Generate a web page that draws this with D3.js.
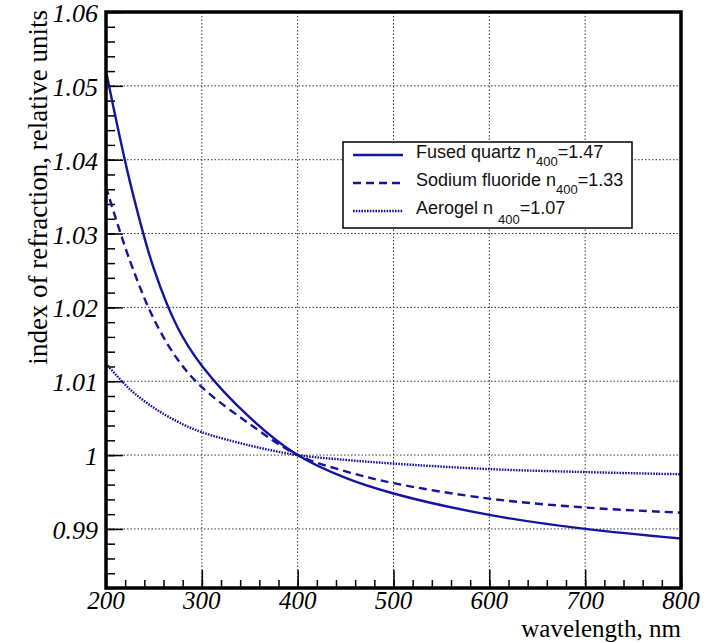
<!DOCTYPE html>
<html>
<head>
<meta charset="utf-8">
<script src="https://cdn.jsdelivr.net/npm/d3@7"></script>
<style>
  body { margin: 0; background: #fff; }
  svg { display: block; }
</style>
</head>
<body>
<div id="chart"></div>
<script>
// wavelength in nm
const wavelength = [200, 225, 250, 275, 300, 350, 400, 450, 500, 600, 700, 800];
const fusedQuartz = [1.0520, 1.0370, 1.0252, 1.0172, 1.0121, 1.0051, 1.0, 0.9969, 0.9948, 0.9919, 0.9900, 0.9887];
const sodiumFluoride = [1.0363, 1.0263, 1.0184, 1.0129, 1.0092, 1.0042, 1.0, 0.9978, 0.9962, 0.9941, 0.9929, 0.9922];
const aerogel = [1.0124, 1.0089, 1.0064, 1.0045, 1.0031, 1.0013, 1.0, 0.99935, 0.99885, 0.9981, 0.9977, 0.9974];

const xTicks = [200, 300, 400, 500, 600, 700, 800];
const yTicks = [0.99, 1, 1.01, 1.02, 1.03, 1.04, 1.05, 1.06];
const yTickLabels = ['0.99', '1', '1.01', '1.02', '1.03', '1.04', '1.05', '1.06'];

const series = [
  { name: 'Fused quartz n', sub: '400', val: '=1.47', values: fusedQuartz, dash: null },
  { name: 'Sodium fluoride n', sub: '400', val: '=1.33', values: sodiumFluoride, dash: '8,5' },
  { name: 'Aerogel n ', sub: '400', val: '=1.07', values: aerogel, dash: '1.6,1.2' }
];

const W = 713, H = 643;
const color = '#1414a0';
const serif = '"Liberation Serif", "DejaVu Serif", serif';

const x = d3.scaleLinear().domain([200, 800]).range([106, 681]);
const y = d3.scaleLinear().domain([0.982, 1.06]).range([588, 12]);

const svg = d3.select('#chart').append('svg')
  .attr('width', W)
  .attr('height', H);

// grid lines
const grid = svg.append('g');
grid.selectAll('line.gx')
  .data(xTicks.slice(1, -1))
  .enter().append('line')
    .attr('x1', d => x(d)).attr('x2', d => x(d))
    .attr('y1', y(0.982)).attr('y2', y(1.06))
    .attr('stroke', '#333').attr('stroke-width', 1)
    .attr('stroke-dasharray', '1.5,2');
grid.selectAll('line.gy')
  .data(yTicks.slice(0, -1))
  .enter().append('line')
    .attr('x1', x(200)).attr('x2', x(800))
    .attr('y1', d => y(d)).attr('y2', d => y(d))
    .attr('stroke', '#333').attr('stroke-width', 1)
    .attr('stroke-dasharray', '1.5,2');

// minor + major ticks (inside)
const xMinor = d3.range(200, 801, 20);
svg.append('g')
  .attr('transform', `translate(0,${y(0.982)})`)
  .call(d3.axisTop(x).tickValues(xMinor).tickSize(8).tickFormat(''))
  .call(g => g.select('.domain').remove())
  .call(g => g.selectAll('line').attr('stroke-width', 1.5));
svg.append('g')
  .attr('transform', `translate(0,${y(0.982)})`)
  .call(d3.axisTop(x).tickValues(xTicks).tickSize(18).tickFormat(''))
  .call(g => g.select('.domain').remove())
  .call(g => g.selectAll('line').attr('stroke-width', 1.5));

const yMinor = d3.range(0, 40).map(i => 0.982 + i * 0.002);
svg.append('g')
  .attr('transform', `translate(${x(200)},0)`)
  .call(d3.axisRight(y).tickValues(yMinor).tickSize(9).tickFormat(''))
  .call(g => g.select('.domain').remove())
  .call(g => g.selectAll('line').attr('stroke-width', 1.5));
svg.append('g')
  .attr('transform', `translate(${x(200)},0)`)
  .call(d3.axisRight(y).tickValues(yTicks).tickSize(17).tickFormat(''))
  .call(g => g.select('.domain').remove())
  .call(g => g.selectAll('line').attr('stroke-width', 1.5));

// tick labels
svg.append('g').selectAll('text')
  .data(xTicks)
  .enter().append('text')
    .attr('x', d => x(d))
    .attr('y', 609)
    .attr('text-anchor', 'middle')
    .style('font-family', serif)
    .style('font-style', 'italic')
    .style('font-size', '25px')
    .text(d => d);

svg.append('g').selectAll('text')
  .data(yTicks)
  .enter().append('text')
    .attr('x', 98)
    .attr('y', d => y(d) + 10)
    .attr('text-anchor', 'end')
    .style('font-family', serif)
    .style('font-style', 'italic')
    .style('font-size', '26px')
    .text((d, i) => yTickLabels[i]);

// axis titles
svg.append('text')
  .attr('x', 681)
  .attr('y', 637)
  .attr('text-anchor', 'end')
  .style('font-family', serif)
  .style('font-size', '25px')
  .text('wavelength, nm');

svg.append('text')
  .attr('transform', 'translate(47,10) rotate(-90)')
  .attr('text-anchor', 'end')
  .style('font-family', serif)
  .style('font-size', '27px')
  .text('index of refraction, relative units');

// curves
svg.append('clipPath').attr('id', 'clip')
  .append('rect').attr('x', 106).attr('y', 12).attr('width', 575).attr('height', 576);

const line = d3.line()
  .x((d, i) => x(wavelength[i]))
  .y(d => y(d))
  .curve(d3.curveCatmullRom.alpha(0.5));

svg.append('g').attr('clip-path', 'url(#clip)')
  .selectAll('path')
  .data(series)
  .enter().append('path')
    .attr('d', d => line(d.values))
    .attr('fill', 'none')
    .attr('stroke', color)
    .attr('stroke-width', 2.4)
    .attr('stroke-dasharray', d => d.dash);

// frame
svg.append('rect')
  .attr('x', 106).attr('y', 12)
  .attr('width', 575).attr('height', 576)
  .attr('fill', 'none')
  .attr('stroke', '#000')
  .attr('stroke-width', 3.5);

// legend
const legend = svg.append('g');
legend.append('rect')
  .attr('x', 343).attr('y', 142)
  .attr('width', 289).attr('height', 86)
  .attr('fill', '#fff')
  .attr('stroke', '#000')
  .attr('stroke-width', 1.5);

const rowY = [155, 183, 211];
series.forEach((s, i) => {
  legend.append('line')
    .attr('x1', 353).attr('x2', 403)
    .attr('y1', rowY[i]).attr('y2', rowY[i])
    .attr('stroke', color)
    .attr('stroke-width', 2.4)
    .attr('stroke-dasharray', s.dash);
  const t = legend.append('text')
    .attr('x', 416)
    .attr('y', rowY[i] + 3)
    .style('font-family', '"Liberation Sans", Arial, sans-serif')
    .style('font-size', '18px')
    .attr('fill', '#111');
  t.append('tspan').text(s.name);
  t.append('tspan')
    .attr('dy', i === 2 ? 10 : 8)
    .style('font-size', '13px')
    .text(s.sub);
  t.append('tspan')
    .attr('dy', i === 2 ? -10 : -8)
    .text(s.val);
});
</script>
</body>
</html>
